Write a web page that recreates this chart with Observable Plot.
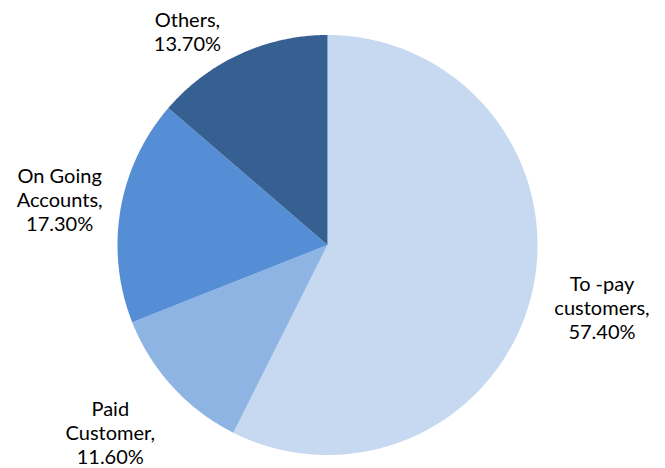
<!DOCTYPE html>
<html><head><meta charset="utf-8">
<script src="https://cdn.jsdelivr.net/npm/d3@7"></script>
<script src="https://cdn.jsdelivr.net/npm/@observablehq/plot@0.6"></script>
<style>body{margin:0;background:#fff}</style>
</head><body><div id="chart"></div>
<script>
const categories = ["To -pay customers", "Paid Customer", "On Going Accounts", "Others"];
const labelLines = ["To -pay\ncustomers,", "Paid\nCustomer,", "On Going\nAccounts,", "Others,"];
const values = [57.4, 11.6, 17.3, 13.7];
const colors = ["#C6D9F1", "#8EB4E3", "#558ED5", "#376092"];
// label distance from centre, in radii, and angle nudge in degrees (layout only)
const labelRadius = [1.34, 1.366, 1.294, 1.216];
const labelAngleShift = [-0.6, 1.7, 0.15, -8.6];

const W = 665, H = 468, cx = 327, cy = 244.5, R = 210;
const pie = d3.pie().sort(null).value(d => d)(values);
const polys = [];
pie.forEach((p, i) => {
  const n = Math.max(8, Math.ceil((p.endAngle - p.startAngle) * 120));
  polys.push({k: i, x: 0, y: 0});
  for (let j = 0; j <= n; j++) {
    const a = p.startAngle + (p.endAngle - p.startAngle) * j / n;
    polys.push({k: i, x: Math.sin(a), y: Math.cos(a)});
  }
  polys.push({k: i, x: 0, y: 0});
});
const labels = pie.map((p, i) => {
  const a = (p.startAngle + p.endAngle) / 2 + labelAngleShift[i] * Math.PI / 180;
  return {x: Math.sin(a) * labelRadius[i], y: Math.cos(a) * labelRadius[i],
          text: labelLines[i] + "\n" + values[i].toFixed(2) + "%"};
});

const chart = Plot.plot({
  width: W, height: H, margin: 0,
  x: {domain: [-cx / R, (W - cx) / R], axis: null},
  y: {domain: [-(H - cy) / R, cy / R], axis: null},
  color: {domain: [0, 1, 2, 3], range: colors},
  style: {fontFamily: "Lato, 'Open Sans', sans-serif", background: "#fff"},
  marks: [
    Plot.line(polys, {x: "x", y: "y", z: "k", fill: d => d.k, stroke: null, curve: "linear"}),
    Plot.text(labels, {x: "x", y: "y", text: "text", fontSize: 20, lineHeight: 1.2, fill: "#000", lineAnchor: "middle", textAnchor: "middle"})
  ]
});
document.getElementById("chart").appendChild(chart);
</script>
</body></html>
